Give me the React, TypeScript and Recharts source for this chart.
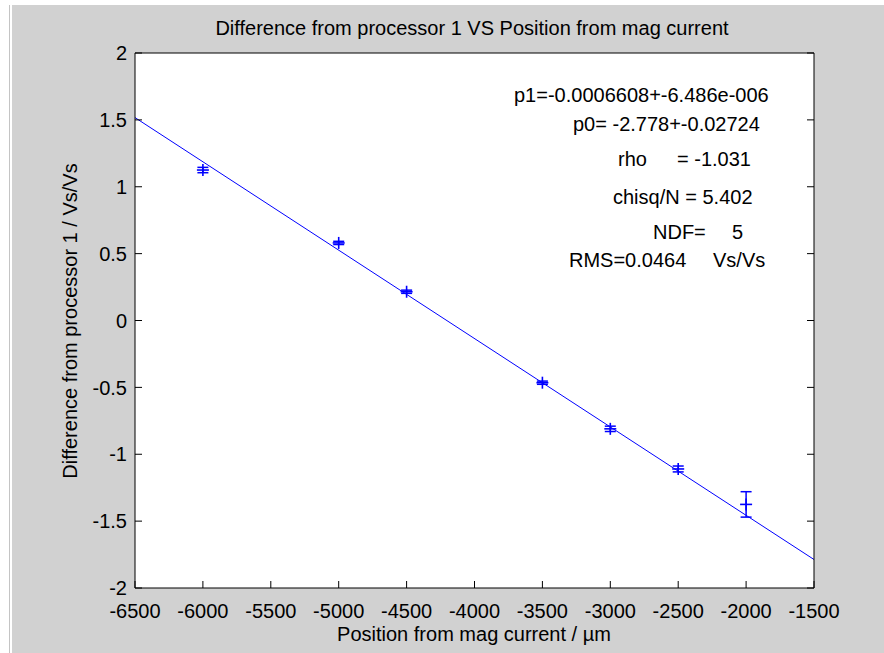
import React from 'react';
import { ComposedChart, Scatter, Line, XAxis, YAxis, ErrorBar, CartesianGrid } from 'recharts';

// measured points (position in um, difference in Vs/Vs, error)
const positions = [-6000, -5000, -4500, -3500, -3000, -2500, -2000];
const differences = [1.125, 0.58, 0.215, -0.465, -0.81, -1.11, -1.375];
const errors = [0.02, 0.012, 0.012, 0.012, 0.02, 0.022, 0.095];

// straight fit line, endpoints
const fitX = [-6500, -1500];
const fitY = [1.517, -1.787];

const xTicks = [-6500, -6000, -5500, -5000, -4500, -4000, -3500, -3000, -2500, -2000, -1500];
const yTicks = [-2, -1.5, -1, -0.5, 0, 0.5, 1, 1.5, 2];

const points = positions.map((x, i) => ({ x, y: differences[i], err: errors[i] }));
const fitLine = fitX.map((x, i) => ({ x, y: fitY[i] }));

const FONT = '"Liberation Sans", Arial, sans-serif';
const BLUE = '#0000ff';
const TICK_LEN = 7;

const PlusMarker = ({ cx, cy }: any) => (
  <g stroke={BLUE} strokeWidth={1.6}>
    <line x1={cx - 6} y1={cy} x2={cx + 6} y2={cy} />
    <line x1={cx} y1={cy - 6} x2={cx} y2={cy + 6} />
  </g>
);

// MATLAB style ticks point into the plot box
const BottomTick = ({ x, y, payload }: any) => (
  <g>
    <line x1={x} x2={x} y1={y - 16} y2={y - 16 - TICK_LEN} stroke="#000" />
    <text x={x} y={y} dy="0.71em" textAnchor="middle" fontSize={20} fontFamily={FONT} fill="#000">
      {payload.value}
    </text>
  </g>
);

const LeftTick = ({ x, y, payload }: any) => (
  <g>
    <line x1={x + 8} x2={x + 8 + TICK_LEN} y1={y} y2={y} stroke="#000" />
    <text x={x} y={y} dy="0.36em" textAnchor="end" fontSize={20} fontFamily={FONT} fill="#000">
      {payload.value}
    </text>
  </g>
);

const TopTick = ({ x, y }: any) => (
  <line x1={x} x2={x} y1={y} y2={y + TICK_LEN} stroke="#000" />
);

const RightTick = ({ x, y }: any) => (
  <line x1={x} x2={x - TICK_LEN} y1={y} y2={y} stroke="#000" />
);

export default function App() {
  return (
    <div style={{ position: 'relative', width: 884, height: 653, background: '#fff', overflow: 'hidden' }}>
      <style>{`body { margin: 0; }`}</style>
      <div style={{ position: 'absolute', left: 9, top: 5, width: 1, height: 648, background: '#c4c4c4' }} />
      <div style={{ position: 'absolute', left: 12, top: 5, right: 0, bottom: 0, background: '#d1d1d1' }} />
      <div style={{ position: 'absolute', left: 0, top: 0 }}>
        <ComposedChart width={884} height={653} margin={{ top: 52, right: 69, bottom: 25, left: 75 }}>
          <CartesianGrid fill="#fff" horizontal={false} vertical={false} />
          <XAxis
            xAxisId="bottom"
            dataKey="x"
            type="number"
            domain={[-6500, -1500]}
            ticks={xTicks}
            interval={0}
            height={40}
            allowDataOverflow
            tickSize={0}
            tickMargin={16}
            tick={BottomTick}
            tickLine={false}
            axisLine={{ stroke: '#000' }}
          />
          <XAxis
            xAxisId="top"
            orientation="top"
            type="number"
            domain={[-6500, -1500]}
            ticks={xTicks}
            interval={0}
            height={1}
            allowDataOverflow
            tickSize={0}
            tickMargin={0}
            tick={TopTick}
            tickLine={false}
            axisLine={{ stroke: '#000' }}
          />
          <YAxis
            yAxisId="left"
            dataKey="y"
            type="number"
            domain={[-2, 2]}
            ticks={yTicks}
            interval={0}
            width={60}
            allowDataOverflow
            tickSize={0}
            tickMargin={8}
            tick={LeftTick}
            tickLine={false}
            axisLine={{ stroke: '#000' }}
          />
          <YAxis
            yAxisId="right"
            orientation="right"
            type="number"
            domain={[-2, 2]}
            ticks={yTicks}
            interval={0}
            width={1}
            allowDataOverflow
            tickSize={0}
            tickMargin={0}
            tick={RightTick}
            tickLine={false}
            axisLine={{ stroke: '#000' }}
          />
          <Line
            xAxisId="bottom"
            yAxisId="left"
            data={fitLine}
            dataKey="y"
            stroke={BLUE}
            strokeWidth={1}
            dot={false}
            isAnimationActive={false}
          />
          <Scatter
            xAxisId="bottom"
            yAxisId="left"
            data={points}
            dataKey="y"
            shape={PlusMarker}
            isAnimationActive={false}
          >
            <ErrorBar dataKey="err" direction="y" width={5.5} stroke={BLUE} strokeWidth={1.5} isAnimationActive={false} />
          </Scatter>
        </ComposedChart>
      </div>
      <svg
        width={884}
        height={653}
        style={{ position: 'absolute', left: 0, top: 0, pointerEvents: 'none' }}
        fontFamily={FONT}
        fill="#000"
      >
        <text x={472} y={28} fontSize={20} textAnchor="middle" dominantBaseline="central">
          Difference from processor 1 VS Position from mag current
        </text>
        <text x={474} y={634} fontSize={20} textAnchor="middle" dominantBaseline="central">
          Position from mag current / µm
        </text>
        <text
          x={70}
          y={321}
          fontSize={20}
          textAnchor="middle"
          dominantBaseline="central"
          transform="rotate(-90 70 321)"
        >
          Difference from processor 1 / Vs/Vs
        </text>
        <g fontSize={20} dominantBaseline="central">
          <text x={514} y={95}>p1=-0.0006608+-6.486e-006</text>
          <text x={573} y={124}>p0= -2.778+-0.02724</text>
          <text x={618} y={159}>rho</text>
          <text x={677} y={159}>= -1.031</text>
          <text x={613} y={197}>chisq/N = 5.402</text>
          <text x={653} y={232}>NDF=</text>
          <text x={732} y={232}>5</text>
          <text x={569} y={260}>RMS=0.0464</text>
          <text x={713} y={260}>Vs/Vs</text>
        </g>
      </svg>
    </div>
  );
}
